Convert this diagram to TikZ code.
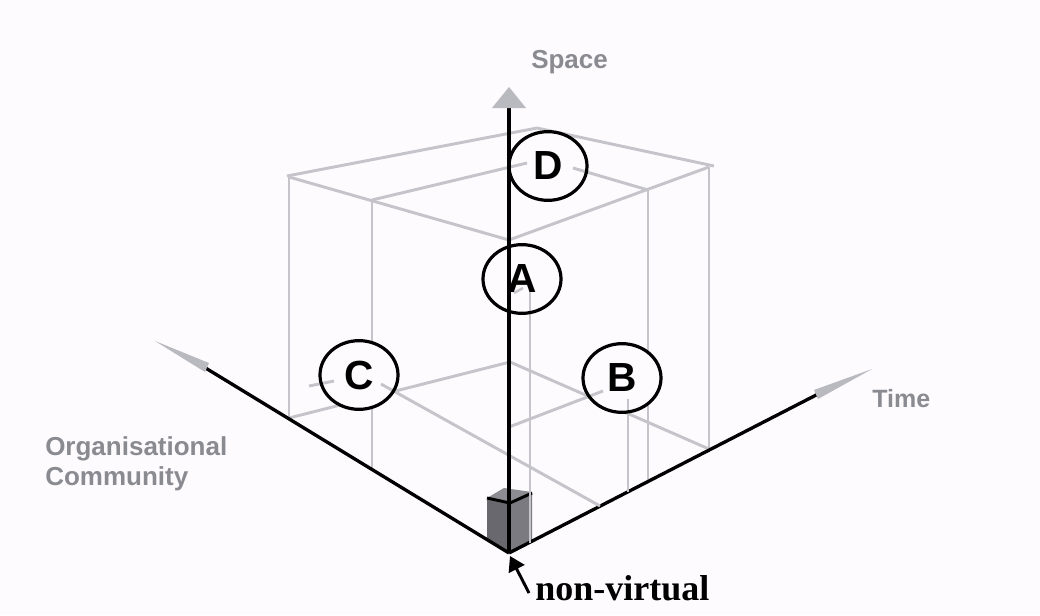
\documentclass[tikz,border=0pt]{standalone}
\usepackage{fontspec}
\setmainfont{Liberation Serif}
\setsansfont{Liberation Sans}
\usetikzlibrary{shapes.geometric,arrows.meta}
\definecolor{bg}{RGB}{253,251,253}
\definecolor{wire}{RGB}{196,196,202}
\definecolor{lblgray}{RGB}{138,138,145}
\definecolor{arrowgray}{RGB}{185,185,192}
\definecolor{boxtop}{RGB}{140,140,146}
\definecolor{boxleft}{RGB}{104,104,110}
\definecolor{boxright}{RGB}{122,122,128}
\begin{document}
\begin{tikzpicture}[x=0.75pt,y=-0.75pt,
  wireline/.style={draw=wire,line width=2.2pt},
  postline/.style={draw=wire,line width=1.9pt},
  axisline/.style={draw=black,line width=2.5pt},
  ptnode/.style={ellipse,draw=black,line width=2.4pt,minimum width=58.5pt,minimum height=51.5pt,inner sep=0pt,
    font=\fontsize{30.5}{32}\selectfont\sffamily\bfseries},
  hide/.style={fill=bg},
  lbl/.style={text=lblgray,inner sep=0pt,font=\fontsize{19.5}{22}\selectfont\sffamily\bfseries},
  headfill/.style={fill=arrowgray}
]
\useasboundingbox[fill=bg] (0,0) rectangle (1040,615);

% ---- coordinates ----
\coordinate (O) at (509,553);
\coordinate (Send) at (509,108);
\coordinate (Lend) at (199,364);
\coordinate (Rend) at (822,392);
% top face
\coordinate (TL) at (287,176);
\coordinate (TB) at (537,128);
\coordinate (TR) at (714,166);
\coordinate (TF) at (509,240);
% posts
\coordinate (P1t) at (289,177);
\coordinate (P1b) at (289,418);
\coordinate (P2t) at (372,200);
\coordinate (P2b) at (372,469);
\coordinate (P3t) at (648,190);
\coordinate (P3b) at (648,481);
\coordinate (P4t) at (709,167);
\coordinate (P4b) at (709,449);
% bottom
\coordinate (BB) at (510,362);
\coordinate (Cax) at (600,506);
\coordinate (Bax) at (509,427);
\coordinate (Bdrop) at (628,492);
\coordinate (Adrop) at (530,543);

% ---- wireframe (through lines) ----
\draw[wireline] (TL) -- (TB) -- (TR);
\draw[wireline] (P1t) -- (TF) -- (P4t);
\draw[postline] (P1t) -- (P1b);
\draw[postline] (P2t) -- (P2b);
\draw[postline] (P3t) -- (P3b);
\draw[postline] (P4t) -- (P4b);
\draw[wireline] (P1b) -- (BB) -- (P4b);

% ---- small box at origin ----
\fill[boxtop] (487,498) -- (504,488) -- (532,492) -- (510,503) -- cycle;
\fill[boxleft] (487,498) -- (510,503) -- (510,553) -- (487,540) -- cycle;
\fill[boxright] (510,503) -- (532,492) -- (532,541) -- (510,553) -- cycle;
\draw[black,line width=2.2pt] (487,498) -- (510,503) -- (532,493);

% ---- horizontal axes ----
\draw[axisline] (O) -- (Lend);
\draw[axisline] (O) -- (Rend);

% ---- hide behind the point circles ----
\fill[hide] (359,375) ellipse [x radius=29.2pt, y radius=25.8pt];
\fill[hide] (622,378) ellipse [x radius=29.2pt, y radius=25.8pt];
\fill[hide] (522,279) ellipse [x radius=29.2pt, y radius=25.8pt];
\fill[hide] (548,166) ellipse [x radius=29.2pt, y radius=25.8pt];

% ---- lines ending at the points ----
\coordinate (Cs1) at (309,386);
\coordinate (Cs2) at (334,381);
\coordinate (Cs3) at (381,384);
\draw[wireline] (Cs1) -- (Cs2);
\draw[wireline] (Cs3) -- (Cax);
\coordinate (Bs1) at (603,391);
\coordinate (Bs2) at (628,399);
\draw[wireline] (Bax) -- (Bs1);
\draw[postline] (Bs2) -- (Bdrop);
\coordinate (As1) at (530,289);
\coordinate (As2) at (514,293);
\coordinate (As3) at (523,288);
\draw[postline] (As1) -- (Adrop);
\draw[postline] (As2) -- (As3);
\coordinate (Ds1) at (527,163);
\coordinate (Ds2) at (573,168);
\draw[wireline] (P2t) -- (Ds1);
\draw[wireline] (Ds2) -- (P3t);

% ---- points ----
\node[ptnode] (C) at (359,375) {C};
\node[ptnode] (B) at (622,378) {B};
\node[ptnode] (A) at (522,279) {A};
\node[ptnode] (D) at (548,166) {D};

% ---- vertical axis ----
\draw[axisline] (O) -- (Send);

% ---- arrow heads ----
\fill[headfill] (509,87) -- (492,108) -- (526,108) -- cycle;
\fill[headfill] (155,341) -- (205,372) -- (209,363) -- cycle;
\fill[headfill] (872,369) -- (818,399) -- (814,390) -- cycle;

% ---- labels ----
\node[lbl,anchor=base west] (space) at (531,68) {Space};
\node[lbl,anchor=base west,font=\fontsize{18.75}{21}\selectfont\sffamily\bfseries] (time) at (872,407) {Time};
\node[lbl,anchor=base west] (org) at (45,455) {Organisational};
\node[lbl,anchor=base west] (comm) at (45,485) {Community};
\node[anchor=base west,inner sep=0pt,font=\fontsize{27}{30}\selectfont\bfseries] (nv) at (535,600) {non-virtual};
\coordinate (nvs) at (529,593);
\coordinate (nvt) at (510,556);
\draw[black,line width=2.2pt,-{Triangle[length=11pt,width=13pt]}] (nvs) -- (nvt);
\end{tikzpicture}
\end{document}
